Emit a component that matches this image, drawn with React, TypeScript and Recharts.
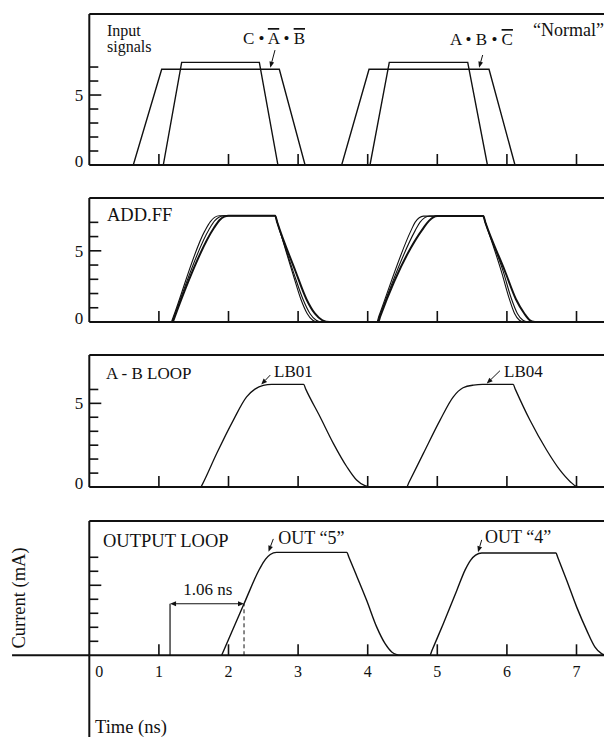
import React from "react";
import { Line, LineChart, ReferenceLine, XAxis, YAxis } from "recharts";

type Pt = { t: number; v: number };
type Seg = [{ x: number; y: number }, { x: number; y: number }];

const SERIF = '"Liberation Serif", "Times New Roman", serif';
const INK = "#111";
const WIDTH = 604;
const AXIS_W = 89.3;
const X_MAX = 7.395;

// ticks (ns / mA)
const TIME_TICKS = [1, 2, 3, 4, 5, 6, 7];
const OUTPUT_TIME_TICKS = [0, 1, 2, 3, 4, 5, 6, 7];
const UNIT_TICKS = [0, 1, 2, 3, 4, 5, 6, 7];
const AB_TICKS = [0, 0.83, 1.67, 2.5, 3.33, 4.17, 5, 5.83];
const LABELLED_LEVELS = [0, 5];

// Input signals
const inputWide: Pt[] = [
  { t: 0.632, v: 0 }, { t: 1.04, v: 6.84 }, { t: 2.73, v: 6.84 }, { t: 3.1, v: 0 },
  { t: 3.626, v: 0 }, { t: 4.019, v: 6.84 }, { t: 5.743, v: 6.84 }, { t: 6.116, v: 0 },
];
const inputNarrow: Pt[] = [
  { t: 1.063, v: 0 }, { t: 1.327, v: 7.33 }, { t: 2.443, v: 7.33 }, { t: 2.71, v: 0 },
  { t: 4.033, v: 0 }, { t: 4.31, v: 7.33 }, { t: 5.437, v: 7.33 }, { t: 5.72, v: 0 },
];

// ADD.FF
const addFfA: Pt[] = [
  { t: 1.18, v: 0 }, { t: 1.21, v: 0.4 }, { t: 1.66, v: 6.4 }, { t: 1.74, v: 7.05 }, { t: 1.8, v: 7.35 },
  { t: 1.87, v: 7.46 }, { t: 2.67, v: 7.46 }, { t: 2.7, v: 7.0 }, { t: 2.93, v: 3.3 }, { t: 3.04, v: 1.6 },
  { t: 3.13, v: 0.6 }, { t: 3.21, v: 0.12 }, { t: 3.28, v: 0 }, { t: 4.13, v: 0 }, { t: 4.16, v: 0.4 },
  { t: 4.62, v: 6.4 }, { t: 4.68, v: 7.0 }, { t: 4.74, v: 7.32 }, { t: 4.8, v: 7.44 }, { t: 5.66, v: 7.44 },
  { t: 5.69, v: 7.0 }, { t: 5.93, v: 3.4 }, { t: 6.03, v: 1.7 }, { t: 6.11, v: 0.6 }, { t: 6.18, v: 0.12 },
  { t: 6.24, v: 0 },
];
const addFfB: Pt[] = [
  { t: 1.19, v: 0 }, { t: 1.22, v: 0.4 }, { t: 1.72, v: 6.5 }, { t: 1.8, v: 7.1 }, { t: 1.87, v: 7.38 },
  { t: 1.94, v: 7.46 }, { t: 2.67, v: 7.46 }, { t: 2.7, v: 7.0 }, { t: 2.94, v: 3.4 }, { t: 3.07, v: 1.6 },
  { t: 3.17, v: 0.6 }, { t: 3.26, v: 0.12 }, { t: 3.34, v: 0 }, { t: 4.14, v: 0 }, { t: 4.17, v: 0.4 },
  { t: 4.68, v: 6.4 }, { t: 4.75, v: 7.0 }, { t: 4.82, v: 7.33 }, { t: 4.89, v: 7.44 }, { t: 5.66, v: 7.44 },
  { t: 5.69, v: 7.0 }, { t: 5.95, v: 3.5 }, { t: 6.06, v: 1.7 }, { t: 6.15, v: 0.6 }, { t: 6.23, v: 0.12 },
  { t: 6.3, v: 0 },
];
const addFfC: Pt[] = [
  { t: 1.2, v: 0 }, { t: 1.23, v: 0.4 }, { t: 1.79, v: 6.6 }, { t: 1.87, v: 7.15 }, { t: 1.94, v: 7.4 },
  { t: 2.0, v: 7.46 }, { t: 2.67, v: 7.46 }, { t: 2.7, v: 7.0 }, { t: 2.96, v: 3.6 }, { t: 3.12, v: 1.6 },
  { t: 3.24, v: 0.6 }, { t: 3.35, v: 0.12 }, { t: 3.45, v: 0 }, { t: 4.15, v: 0 }, { t: 4.18, v: 0.4 },
  { t: 4.8, v: 6.6 }, { t: 4.88, v: 7.1 }, { t: 4.94, v: 7.35 }, { t: 5.0, v: 7.44 }, { t: 5.66, v: 7.44 },
  { t: 5.69, v: 7.0 }, { t: 5.97, v: 3.6 }, { t: 6.13, v: 1.6 }, { t: 6.25, v: 0.6 }, { t: 6.33, v: 0.12 },
  { t: 6.4, v: 0 },
];

// A-B LOOP (LB01, LB04)
const abLoop: Pt[] = [
  { t: 1.605, v: 0 }, { t: 1.63, v: 0.2 }, { t: 1.83, v: 2.0 }, { t: 2.07, v: 4.0 }, { t: 2.26, v: 5.39 },
  { t: 2.38, v: 5.85 }, { t: 2.5, v: 6.07 }, { t: 2.62, v: 6.13 }, { t: 3.08, v: 6.13 }, { t: 3.11, v: 5.85 },
  { t: 3.315, v: 4.2 }, { t: 3.506, v: 2.61 }, { t: 3.7, v: 1.21 }, { t: 3.84, v: 0.42 }, { t: 3.96, v: 0.08 },
  { t: 4.06, v: 0 }, { t: 4.56, v: 0 }, { t: 4.59, v: 0.25 }, { t: 4.8, v: 2.01 }, { t: 5.04, v: 4.0 },
  { t: 5.23, v: 5.39 }, { t: 5.37, v: 5.93 }, { t: 5.52, v: 6.09 }, { t: 5.65, v: 6.13 }, { t: 6.09, v: 6.13 },
  { t: 6.12, v: 5.85 }, { t: 6.33, v: 4.0 }, { t: 6.57, v: 2.21 }, { t: 6.76, v: 1.02 }, { t: 6.91, v: 0.32 },
  { t: 7.0, v: 0.03 }, { t: 7.05, v: 0 }, { t: 7.24, v: 0 },
];

// OUTPUT LOOP (OUT "5", OUT "4")
const outputLoop: Pt[] = [
  { t: 1.902, v: 0 }, { t: 1.93, v: 0.32 }, { t: 2.223, v: 3.68 }, { t: 2.45, v: 6.2 }, { t: 2.53, v: 6.85 },
  { t: 2.6, v: 7.2 }, { t: 2.69, v: 7.35 }, { t: 3.7, v: 7.35 }, { t: 3.73, v: 7.0 }, { t: 3.79, v: 6.28 },
  { t: 3.986, v: 3.91 }, { t: 4.13, v: 2.01 }, { t: 4.25, v: 0.83 }, { t: 4.345, v: 0.24 }, { t: 4.417, v: 0.05 },
  { t: 4.46, v: 0 }, { t: 4.895, v: 0 }, { t: 4.92, v: 0.3 }, { t: 5.086, v: 2.25 }, { t: 5.28, v: 4.63 },
  { t: 5.4, v: 6.1 }, { t: 5.48, v: 6.8 }, { t: 5.55, v: 7.15 }, { t: 5.64, v: 7.31 }, { t: 6.705, v: 7.31 },
  { t: 6.73, v: 7.0 }, { t: 6.86, v: 5.34 }, { t: 7.003, v: 3.44 }, { t: 7.147, v: 1.78 }, { t: 7.266, v: 0.59 },
  { t: 7.36, v: 0.12 }, { t: 7.42, v: 0 },
];

// leader arrows, in data units (from, to)
const inputLeaders: Seg[] = [
  [{ x: 2.668, y: 8.21 }, { x: 2.6, y: 6.95 }],
  [{ x: 5.652, y: 7.86 }, { x: 5.6, y: 6.95 }],
];
const abLeaders: Seg[] = [
  [{ x: 2.6, y: 6.69 }, { x: 2.47, y: 6.12 }],
  [{ x: 5.9, y: 6.95 }, { x: 5.71, y: 6.18 }],
];
const outputLeaders: Seg[] = [
  [{ x: 2.644, y: 8.31 }, { x: 2.575, y: 7.4 }],
  [{ x: 5.638, y: 8.24 }, { x: 5.585, y: 7.36 }],
];
const DIM_START = 1.16;
const DIM_END = 2.223;
const DIM_LEVEL = 3.68;
const AXIS_LEFT_END = -1.11;
const AXIS_DOWN_END = -5.84;

function TimeTick(props: any) {
  const { x, y, payload, showLabel } = props;
  const v = payload.value;
  return (
    <g>
      {v !== 0 && <line x1={x} x2={x} y1={y} y2={y - 11} stroke={INK} strokeWidth={1.6} />}
      {showLabel && (
        <text x={x + (v === 0 ? 10 : 0)} y={y + 22} textAnchor="middle" fontSize={16} fontFamily={SERIF} fill={INK}>
          {v}
        </text>
      )}
    </g>
  );
}

function LevelTick(props: any) {
  const { x, y, payload, labels } = props;
  const v = payload.value;
  const major = Math.abs(v - 5) < 0.01;
  return (
    <g>
      {v !== 0 && <line x1={x} x2={x + (major ? 12 : 9)} y1={y} y2={y} stroke={INK} strokeWidth={1.6} />}
      {labels.includes(v) && (
        <text x={x - 6} y={y + (v === 0 ? 2 : 6)} textAnchor="end" fontSize={17} fontFamily={SERIF} fill={INK}>
          {v}
        </text>
      )}
    </g>
  );
}

function arrowHead(tx: number, ty: number, fx: number, fy: number) {
  const a = Math.atan2(ty - fy, tx - fx);
  const len = 6;
  const w = 2.4;
  const bx = tx - len * Math.cos(a);
  const by = ty - len * Math.sin(a);
  const px = -Math.sin(a) * w;
  const py = Math.cos(a) * w;
  return { bx, by, pts: `${tx},${ty} ${bx + px},${by + py} ${bx - px},${by - py}` };
}

function Leader(props: any) {
  const { x1, y1, x2, y2 } = props;
  const h = arrowHead(x2, y2, x1, y1);
  return (
    <g>
      <line x1={x1} y1={y1} x2={h.bx} y2={h.by} stroke={INK} strokeWidth={1} />
      <polygon points={h.pts} fill={INK} />
    </g>
  );
}

function Dimension(props: any) {
  const { x1, y1, x2, y2 } = props;
  const a = arrowHead(x1, y1, x2, y2);
  const b = arrowHead(x2, y2, x1, y1);
  return (
    <g>
      <line x1={a.bx} y1={a.by} x2={b.bx} y2={b.by} stroke={INK} strokeWidth={1} />
      <polygon points={a.pts} fill={INK} />
      <polygon points={b.pts} fill={INK} />
    </g>
  );
}

type PanelProps = {
  top: number;
  base: number;
  yMax: number;
  yTicks: number[];
  yLabels: number[];
  xTicks: number[];
  xLabels?: boolean;
  below: number;
  children: React.ReactNode;
};

function Panel({ top, base, yMax, yTicks, yLabels, xTicks, xLabels, below, children }: PanelProps) {
  const pad = 2;
  return (
    <div style={{ position: "absolute", left: 0, top: top - pad }}>
      <LineChart width={WIDTH} height={pad + (base - top) + below} margin={{ top: pad, right: 0, bottom: 0, left: 0 }}>
        <XAxis
          type="number"
          dataKey="t"
          domain={[0, X_MAX]}
          ticks={xTicks}
          interval={0}
          allowDataOverflow
          height={below}
          tickLine={false}
          tickSize={0}
          tickMargin={0}
          axisLine={{ stroke: INK, strokeWidth: 2 }}
          tick={(p: any) => <TimeTick {...p} showLabel={!!xLabels} />}
        />
        <YAxis
          type="number"
          domain={[0, yMax]}
          ticks={yTicks}
          interval={0}
          allowDataOverflow
          width={AXIS_W}
          tickLine={false}
          tickSize={0}
          tickMargin={0}
          axisLine={{ stroke: INK, strokeWidth: 2 }}
          tick={(p: any) => <LevelTick {...p} labels={yLabels} />}
        />
        <ReferenceLine y={yMax} stroke={INK} strokeWidth={2} />
        {children}
      </LineChart>
    </div>
  );
}

function Texts() {
  const t = { fontFamily: SERIF, fill: INK };
  const over = { textDecoration: "overline" };
  return (
    <svg width={WIDTH} height={737} style={{ position: "absolute", left: 0, top: 0, pointerEvents: "none" }}>
      <text x={107} y={36} fontSize={16} {...t}>Input</text>
      <text x={107} y={51.5} fontSize={16} {...t}>signals</text>
      <text x={243} y={44} fontSize={17} {...t}>
        C • <tspan style={over}>A</tspan> • <tspan style={over}>B</tspan>
      </text>
      <text x={450} y={45} fontSize={17} {...t}>
        A • B • <tspan style={over}>C</tspan>
      </text>
      <text x={533} y={35.5} fontSize={18} {...t}>“Normal”</text>

      <text x={107} y={220.7} fontSize={18.5} {...t}>ADD.FF</text>

      <text x={106} y={379} fontSize={17} {...t}>A - B LOOP</text>
      <text x={274} y={376.5} fontSize={17} {...t}>LB01</text>
      <text x={504} y={376.5} fontSize={17} {...t}>LB04</text>

      <text x={103} y={546.7} fontSize={18.5} {...t}>OUTPUT LOOP</text>
      <text x={278.3} y={544} fontSize={18} {...t}>OUT “5”</text>
      <text x={485} y={542.5} fontSize={18} {...t}>OUT “4”</text>
      <text x={183.3} y={595} fontSize={17} {...t}>1.06 ns</text>

      <text x={25} y={598} fontSize={18.5} textAnchor="middle" transform="rotate(-90 25 598)" {...t}>
        Current (mA)
      </text>
      <text x={95} y={733} fontSize={18.5} {...t}>Time (ns)</text>
    </svg>
  );
}

export default function App() {
  return (
    <div style={{ position: "absolute", left: 0, top: 0, width: WIDTH, height: 737, background: "#fff", fontFamily: SERIF }}>
      <Panel top={14} base={165} yMax={10.79} yTicks={UNIT_TICKS} yLabels={LABELLED_LEVELS} xTicks={TIME_TICKS} below={28}>
        <Line data={inputWide} dataKey="v" type="linear" stroke={INK} strokeWidth={1.4} dot={false} isAnimationActive={false} />
        <Line data={inputNarrow} dataKey="v" type="linear" stroke={INK} strokeWidth={1.4} dot={false} isAnimationActive={false} />
        {inputLeaders.map((s, i) => (
          <ReferenceLine key={i} segment={s} shape={Leader} ifOverflow="visible" />
        ))}
      </Panel>

      <Panel top={198.3} base={322.3} yMax={8.71} yTicks={UNIT_TICKS} yLabels={LABELLED_LEVELS} xTicks={TIME_TICKS} below={28}>
        <Line data={addFfA} dataKey="v" type="monotone" stroke={INK} strokeWidth={1.1} dot={false} isAnimationActive={false} />
        <Line data={addFfB} dataKey="v" type="monotone" stroke={INK} strokeWidth={1.1} dot={false} isAnimationActive={false} />
        <Line data={addFfC} dataKey="v" type="monotone" stroke={INK} strokeWidth={2} dot={false} isAnimationActive={false} />
      </Panel>

      <Panel top={355} base={487} yMax={7.89} yTicks={AB_TICKS} yLabels={LABELLED_LEVELS} xTicks={TIME_TICKS} below={28}>
        <Line data={abLoop} dataKey="v" type="monotone" stroke={INK} strokeWidth={1.3} dot={false} isAnimationActive={false} />
        {abLeaders.map((s, i) => (
          <ReferenceLine key={i} segment={s} shape={Leader} ifOverflow="visible" />
        ))}
      </Panel>

      <Panel top={520.7} base={655} yMax={9.59} yTicks={UNIT_TICKS} yLabels={[]} xTicks={OUTPUT_TIME_TICKS} xLabels below={82}>
        <ReferenceLine segment={[{ x: AXIS_LEFT_END, y: 0 }, { x: 0, y: 0 }]} stroke={INK} strokeWidth={2} ifOverflow="visible" />
        <ReferenceLine segment={[{ x: 0, y: 0 }, { x: 0, y: AXIS_DOWN_END }]} stroke={INK} strokeWidth={2} ifOverflow="visible" />
        <ReferenceLine segment={[{ x: DIM_START, y: 0 }, { x: DIM_START, y: DIM_LEVEL }]} stroke={INK} strokeWidth={1.2} />
        <ReferenceLine segment={[{ x: DIM_END, y: 0 }, { x: DIM_END, y: DIM_LEVEL }]} stroke={INK} strokeWidth={1} strokeDasharray="4 3" />
        <ReferenceLine segment={[{ x: DIM_START, y: DIM_LEVEL }, { x: DIM_END, y: DIM_LEVEL }]} shape={Dimension} />
        <Line data={outputLoop} dataKey="v" type="monotone" stroke={INK} strokeWidth={1.4} dot={false} isAnimationActive={false} />
        {outputLeaders.map((s, i) => (
          <ReferenceLine key={i} segment={s} shape={Leader} ifOverflow="visible" />
        ))}
      </Panel>

      <Texts />
    </div>
  );
}
